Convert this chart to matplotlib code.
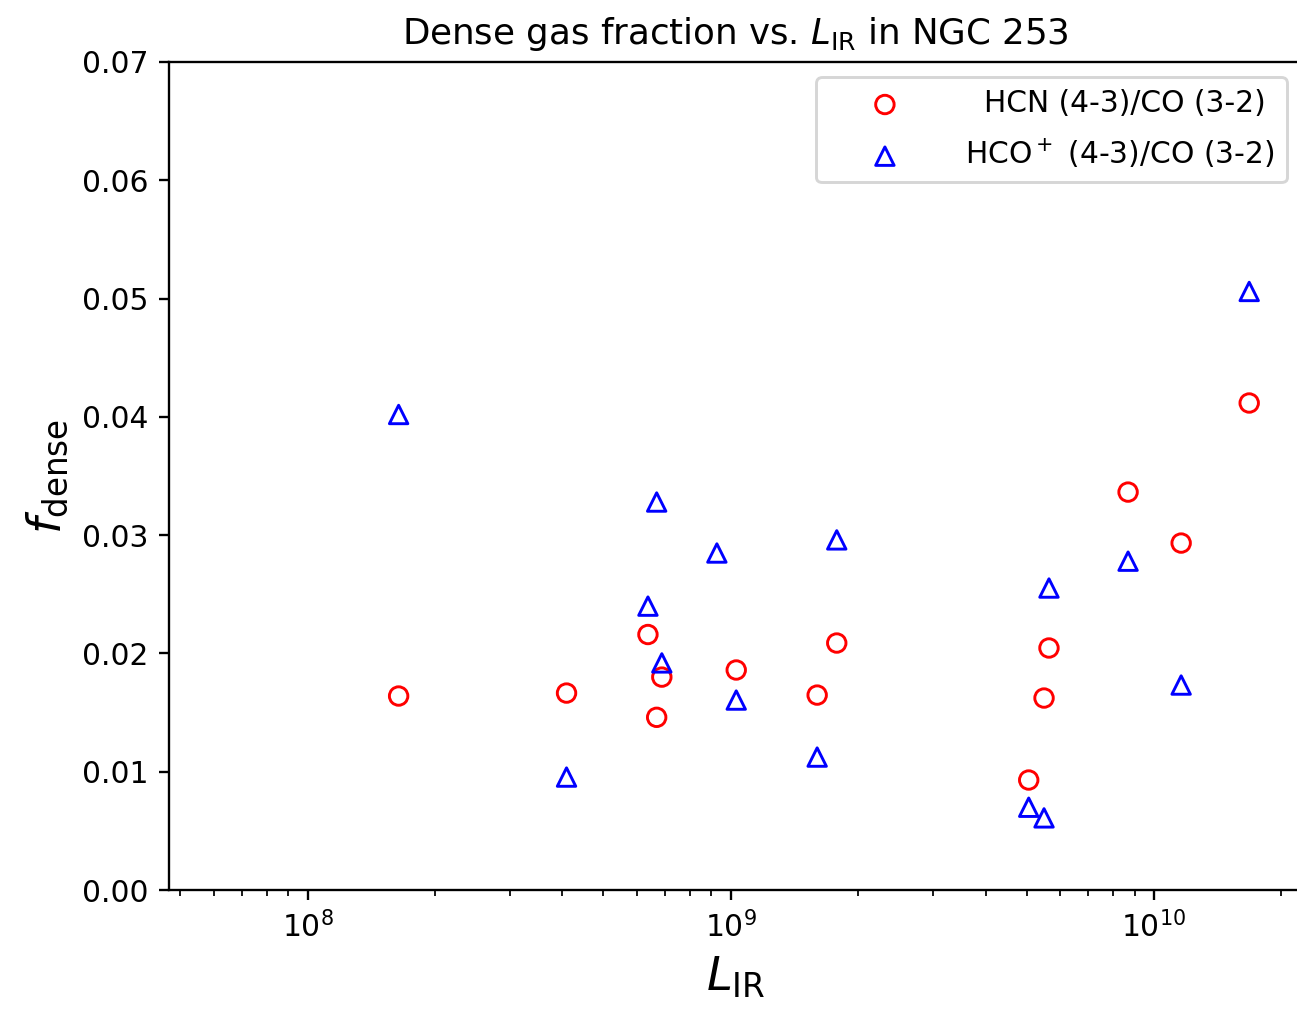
import matplotlib
matplotlib.use("Agg")
import matplotlib.pyplot as plt

# ======================================
# Data
# ======================================

# HCN (4-3)/CO (3-2)
hcn_lir = [1.64e8, 4.09e8, 6.37e8, 6.87e8, 6.68e8, 1.03e9, 1.60e9, 1.78e9,
           5.06e9, 5.50e9, 5.65e9, 8.69e9, 1.16e10, 1.68e10]
hcn_frac = [0.0164, 0.01665, 0.0216, 0.0180, 0.0146, 0.0186, 0.01648, 0.02088,
            0.0093, 0.01623, 0.02046, 0.03364, 0.02933, 0.04117]

# HCO+ (4-3)/CO (3-2)
hco_lir = [1.64e8, 4.09e8, 6.37e8, 6.68e8, 6.87e8, 9.27e8, 1.03e9, 1.60e9,
           1.78e9, 5.06e9, 5.50e9, 5.65e9, 8.69e9, 1.16e10, 1.68e10]
hco_frac = [0.0402, 0.00955, 0.0240, 0.0328, 0.0192, 0.02849, 0.01606, 0.01124,
            0.0296, 0.0070, 0.0061, 0.02553, 0.0278, 0.01733, 0.0506]

# ======================================
# Plot
# ======================================

plt.rcParams['font.size'] = 10.2

dpi = 210
fig = plt.figure(figsize=(1297 / dpi, 1009 / dpi), dpi=dpi)
ax = fig.add_axes([0.1303, 0.1179, 0.8736, 0.8207])

ax.scatter(hcn_lir, hcn_frac, marker='o', facecolors='none', edgecolors='red',
           s=40, label='  HCN (4-3)/CO (3-2)')
ax.scatter(hco_lir, hco_frac, marker='^', facecolors='none', edgecolors='blue',
           s=40, label='HCO$^+$ (4-3)/CO (3-2)')

ax.set_xscale('log')
ax.set_xlim(4.7e7, 2.24e10)
ax.set_ylim(0, 0.07)

ax.set_title(r'Dense gas fraction vs. $L_{\rm IR}$ in NGC 253')
ax.set_xlabel(r'$L_{\rm IR}$', fontsize=16)
ax.set_ylabel(r'$f_{\rm dense}$', fontsize=16)

ax.legend(loc='upper right', handlelength=3.8, labelspacing=0.62, borderpad=0.42)

fig.savefig('out.png', dpi=dpi)
